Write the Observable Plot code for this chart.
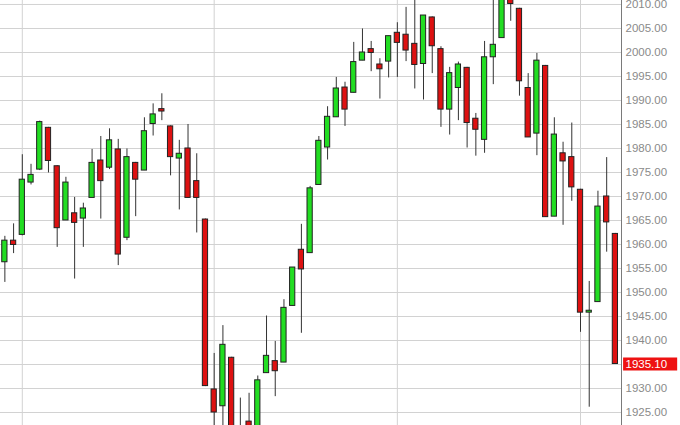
<!DOCTYPE html>
<html>
<head>
<meta charset="utf-8">
<script src="https://cdn.jsdelivr.net/npm/d3@7"></script>
<script src="https://cdn.jsdelivr.net/npm/@observablehq/plot@0.6"></script>
<style>
  html, body { margin: 0; padding: 0; background: #ffffff; }
  #chart { width: 680px; height: 425px; overflow: hidden; }
</style>
</head>
<body>
<div id="chart"></div>
<script>
// Daily candles (index 0..70)
const open  = [1956.3,1960.8,1962.0,1972.9,1975.6,1984.3,1976.3,1965.0,1966.5,1965.4,
               1969.7,1977.5,1976.0,1979.8,1961.4,1977.0,1975.4,1985.1,1988.2,1984.6,
               1977.9,1980.0,1973.2,1965.2,1929.8,1926.3,1936.4,1920.5,1923.1,1918.5,
               1933.2,1935.7,1935.4,1947.2,1958.9,1958.2,1972.4,1980.2,1986.5,1992.7,
               1991.6,1998.3,2000.7,1997.5,1998.1,2004.1,2003.7,2001.8,1997.6,2007.3,
               2000.7,1988.1,1992.6,1996.8,1986.2,1981.8,1999.0,2003.0,2012.8,2009.1,
               1992.6,1983.1,1997.2,1965.8,1979.0,1978.2,1971.4,1945.8,1948.0,1970.0,
               1962.2];
const high  = [1961.7,1964.3,1978.7,1976.7,1985.7,1984.4,1976.4,1974.0,1969.8,1968.6,
               1979.8,1982.5,1984.1,1981.9,1979.9,1977.1,1986.4,1989.3,1991.4,1984.7,
               1981.7,1985.0,1978.9,1965.3,1937.3,1943.1,1936.5,1928.0,1929.0,1932.6,
               1945.1,1939.8,1948.5,1955.2,1964.2,1972.1,1982.5,1988.7,1994.8,1993.8,
               2002.1,2004.9,2002.3,1998.7,2003.4,2006.2,2009.4,2011.5,2007.7,2007.4,
               2001.2,1996.9,1998.0,1996.9,1987.3,2002.3,2011.0,2014.0,2013.5,2009.2,
               1995.6,1999.8,1997.3,1986.4,1981.3,1985.3,1971.5,1952.3,1971.1,1978.1,
               1962.3];
const low   = [1952.1,1958.1,1961.8,1972.4,1975.4,1974.9,1959.4,1965.0,1952.8,1959.4,
               1969.7,1965.3,1975.6,1955.6,1960.8,1965.8,1975.4,1982.6,1985.8,1974.3,
               1967.2,1969.6,1962.4,1930.4,1921.0,1921.0,1917.5,1912.0,1915.0,1916.0,
               1933.2,1928.3,1935.4,1947.2,1941.5,1958.2,1972.4,1977.6,1986.5,1984.6,
               1991.6,1998.3,1996.0,1990.3,1994.7,1994.8,1998.1,1992.4,1990.1,1995.6,
               1984.4,1982.8,1985.8,1980.1,1978.4,1979.0,1993.3,2003.0,2006.5,1990.9,
               1982.3,1978.5,1965.7,1965.8,1964.0,1969.0,1941.7,1926.1,1948.0,1958.4,
               1935.1];
const close = [1960.8,1959.9,1973.5,1974.5,1985.5,1977.4,1963.4,1972.9,1964.5,1967.5,
               1977.0,1973.2,1981.7,1957.9,1978.2,1973.5,1983.6,1987.1,1987.7,1978.2,
               1978.9,1969.7,1969.7,1930.5,1925.0,1939.1,1919.5,1917.0,1918.0,1931.7,
               1936.8,1933.6,1946.8,1955.2,1954.8,1971.7,1981.6,1986.6,1992.5,1988.1,
               1998.0,2000.0,1999.9,1996.5,2003.4,2002.0,2000.4,1997.4,2007.7,2001.3,
               1988.1,1995.7,1997.5,1985.3,1983.9,1999.0,2001.6,2012.5,2010.1,1994.0,
               1982.3,1998.3,1965.7,1982.9,1977.3,1971.9,1945.8,1946.2,1967.9,1964.6,
               1935.1];
// Candle indexes where the vertical (month) grid lines fall
const monthStarts = [2, 24, 45, 66];
// Price-axis tick labels
const yTicks = [1925,1930,1935,1940,1945,1950,1955,1960,1965,1970,1975,1980,1985,
                1990,1995,2000,2005,2010];
const lastPrice = 1935.10;

const candles = open.map((o, i) => ({
  i, open: o, high: high[i], low: low[i], close: close[i], up: close[i] >= o
}));

const GREEN = "#22dd22";
const RED = "#dd1111";
const HALF = 0.3;

const chart = Plot.plot({
  width: 680,
  height: 425,
  marginLeft: 0,
  marginRight: 59,
  marginTop: 0,
  marginBottom: 0,
  style: { background: "#ffffff", fontFamily: "Arial, 'Liberation Sans', sans-serif" },
  x: { type: "linear", domain: [-0.5, 70.7], axis: null },
  y: { domain: [1922.29, 2010.83], axis: null },
  marks: [
    Plot.gridY({ ticks: yTicks, stroke: "#d2d2d2", strokeOpacity: 1 }),
    Plot.ruleX(monthStarts, { x: d => d, stroke: "#d2d2d2", strokeOpacity: 1 }),
    Plot.ruleX(candles, {
      x: "i", y1: "low", y2: "high", stroke: "#333333", strokeWidth: 1, clip: true
    }),
    Plot.rect(candles, {
      x1: d => d.i - HALF, x2: d => d.i + HALF,
      y1: "open", y2: "close",
      fill: d => d.up ? GREEN : RED,
      stroke: "#222222", strokeWidth: 1, clip: true
    }),
    Plot.frame({ anchor: "right", stroke: "#7a7a7a" }),
    Plot.axisY({
      anchor: "right", ticks: yTicks, tickSize: 0, tickPadding: 4,
      tickFormat: d => d.toFixed(2), fill: "#8a8a8a", fontSize: 11.5
    }),
    Plot.ruleY([lastPrice], {
      y: d => d, x1: 70.94, x2: 77.14, stroke: "#ee1111", strokeWidth: 13
    }),
    Plot.text([lastPrice], {
      y: d => d, frameAnchor: "right", dx: 4, textAnchor: "start",
      text: d => d.toFixed(2), fill: "#ffffff", fontSize: 11.5
    })
  ]
});

document.getElementById("chart").appendChild(chart);
</script>
</body>
</html>
